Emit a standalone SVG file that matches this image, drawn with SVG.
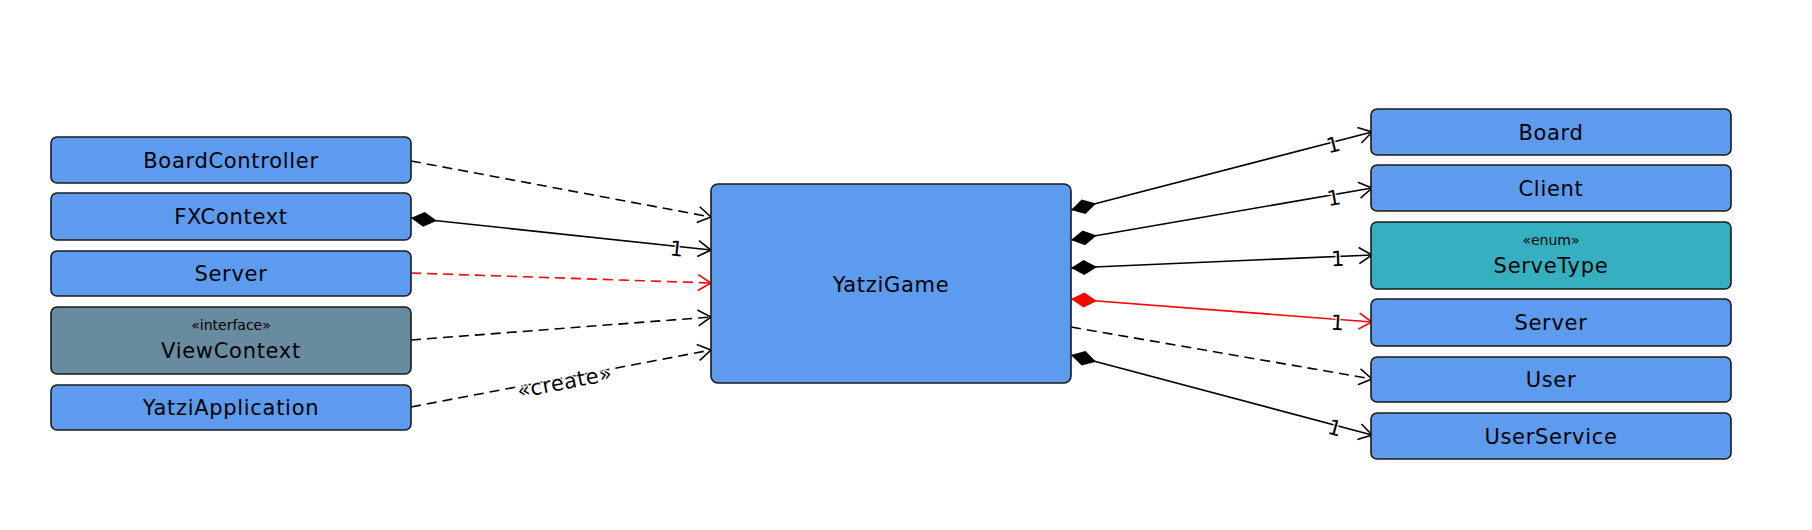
<svg xmlns="http://www.w3.org/2000/svg" width="1812" height="530" viewBox="0 0 1812 530">
<style>
.node{fill:#5D9BEE;stroke:#1a1a1a;stroke-width:1.6}
.iface{fill:#688BA0;stroke:#1a1a1a;stroke-width:1.6}
.enum{fill:#35B0C1;stroke:#1a1a1a;stroke-width:1.6}
.name{font-family:"DejaVu Sans",sans-serif;font-size:21px;letter-spacing:0.7px;text-anchor:middle;fill:#000}
.st{font-family:"DejaVu Sans",sans-serif;font-size:14px;text-anchor:middle;fill:#000}
.lbl{font-family:"DejaVu Sans",sans-serif;font-size:21px;text-anchor:middle;fill:#000;stroke:#fff;stroke-width:3;stroke-opacity:0.8;paint-order:stroke}
.e{fill:none;stroke:#000;stroke-width:1.6}
.r{stroke:#f00}
.d{stroke-dasharray:10,6}
</style>
<defs>
<marker id="arr" markerUnits="userSpaceOnUse" markerWidth="30" markerHeight="30" viewBox="-15 -15 30 30" refX="0" refY="0" orient="auto"><path d="M-13,-8 L0,0 L-13,8" fill="none" stroke="#000" stroke-width="1.6"/></marker>
<marker id="arrR" markerUnits="userSpaceOnUse" markerWidth="30" markerHeight="30" viewBox="-15 -15 30 30" refX="0" refY="0" orient="auto"><path d="M-13,-8 L0,0 L-13,8" fill="none" stroke="#f00" stroke-width="1.6"/></marker>
<marker id="dia" markerUnits="userSpaceOnUse" markerWidth="30" markerHeight="20" viewBox="-2 -10 30 20" refX="0" refY="0" orient="auto"><path d="M0,0 L13,-7.5 L26,0 L13,7.5 Z" fill="#000"/></marker>
<marker id="diaR" markerUnits="userSpaceOnUse" markerWidth="30" markerHeight="20" viewBox="-2 -10 30 20" refX="0" refY="0" orient="auto"><path d="M0,0 L13,-7.5 L26,0 L13,7.5 Z" fill="#f00"/></marker>
</defs>
<rect width="1812" height="530" fill="#fff"/>
<g id="connectors">
<path class="e d" d="M411,161 L711,217" marker-end="url(#arr)"/>
<path class="e" d="M411,218 L711,250" marker-start="url(#dia)" marker-end="url(#arr)"/>
<path class="e d r" d="M411,273 L711,283" marker-end="url(#arrR)"/>
<path class="e d" d="M411,340 L711,317" marker-end="url(#arr)"/>
<path class="e d" d="M411,407 L711,350" marker-end="url(#arr)"/>
<path class="e" d="M1071,210 L1372,132" marker-start="url(#dia)" marker-end="url(#arr)"/>
<path class="e" d="M1071,240 L1372,188" marker-start="url(#dia)" marker-end="url(#arr)"/>
<path class="e" d="M1071,268 L1372,255" marker-start="url(#dia)" marker-end="url(#arr)"/>
<path class="e r" d="M1071,299 L1372,322" marker-start="url(#diaR)" marker-end="url(#arrR)"/>
<path class="e d" d="M1071,327 L1372,379" marker-end="url(#arr)"/>
<path class="e" d="M1071,355 L1372,435" marker-start="url(#dia)" marker-end="url(#arr)"/>
<text class="lbl" transform="translate(676,256) rotate(6)">1</text>
<text class="lbl" transform="translate(566,389) rotate(-11)" style="letter-spacing:0.5px">«create»</text>
<text class="lbl" transform="translate(1335,152) rotate(-14)">1</text>
<text class="lbl" transform="translate(1335,205) rotate(-10)">1</text>
<text class="lbl" transform="translate(1338,266) rotate(-2)">1</text>
<text class="lbl" transform="translate(1337,330) rotate(4)">1</text>
<text class="lbl" transform="translate(1333,435) rotate(15)">1</text>
</g>
<g id="BoardController"><rect class="node" x="51" y="137" width="360" height="46" rx="6"/><text class="name" x="231" y="168">BoardController</text></g>
<g id="FXContext"><rect class="node" x="51" y="193" width="360" height="47" rx="6"/><text class="name" x="231" y="224">FXContext</text></g>
<g id="ServerL"><rect class="node" x="51" y="251" width="360" height="45" rx="6"/><text class="name" x="231" y="281">Server</text></g>
<g id="ViewContext"><rect class="iface" x="51" y="307" width="360" height="67" rx="6"/><text class="st" x="231" y="330">«interface»</text><text class="name" x="231" y="358">ViewContext</text></g>
<g id="YatziApplication"><rect class="node" x="51" y="385" width="360" height="45" rx="6"/><text class="name" x="231" y="415">YatziApplication</text></g>
<g id="YatziGame"><rect class="node" x="711" y="184" width="360" height="199" rx="7"/><text class="name" x="891" y="292">YatziGame</text></g>
<g id="Board"><rect class="node" x="1371" y="109" width="360" height="46" rx="6"/><text class="name" x="1551" y="140">Board</text></g>
<g id="Client"><rect class="node" x="1371" y="165" width="360" height="46" rx="6"/><text class="name" x="1551" y="196">Client</text></g>
<g id="ServeType"><rect class="enum" x="1371" y="222" width="360" height="67" rx="6"/><text class="st" x="1551" y="245">«enum»</text><text class="name" x="1551" y="273">ServeType</text></g>
<g id="ServerR"><rect class="node" x="1371" y="299" width="360" height="47" rx="6"/><text class="name" x="1551" y="330">Server</text></g>
<g id="User"><rect class="node" x="1371" y="357" width="360" height="45" rx="6"/><text class="name" x="1551" y="387">User</text></g>
<g id="UserService"><rect class="node" x="1371" y="413" width="360" height="46" rx="6"/><text class="name" x="1551" y="444">UserService</text></g>
</svg>
